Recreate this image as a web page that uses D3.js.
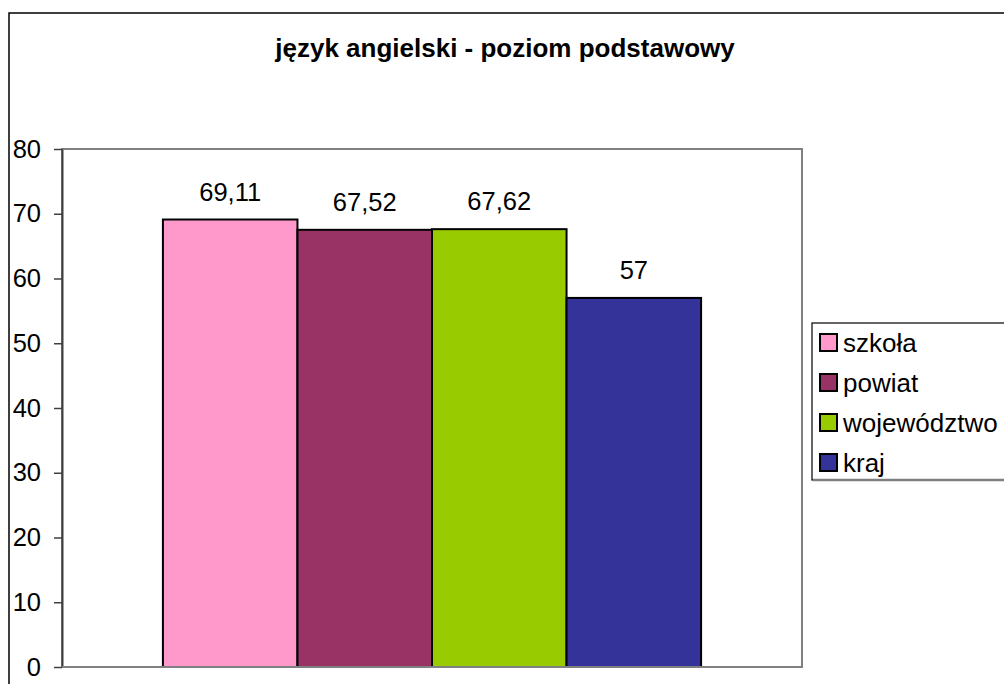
<!DOCTYPE html>
<html>
<head>
<meta charset="utf-8">
<script src="https://cdn.jsdelivr.net/npm/d3@7"></script>
<style>
  html, body { margin: 0; padding: 0; background: #fff; }
  svg text { font-family: Arial, "Liberation Sans", sans-serif; fill: #000; }
</style>
</head>
<body>
<svg id="chart" width="1004" height="684"></svg>
<script>
// dati
const title = 'język angielski - poziom podstawowy';
const categories = [''];
const seriesNames = ['szkoła', 'powiat', 'województwo', 'kraj'];
const seriesValues = [69.11, 67.52, 67.62, 57];
const seriesLabels = ['69,11', '67,52', '67,62', '57'];
const seriesColors = ['#FF99CC', '#993366', '#99CC00', '#333399'];
const yTicks = [0, 10, 20, 30, 40, 50, 60, 70, 80];

const svg = d3.select('#chart');

// cornice esterna (esce dal bordo destro e inferiore)
svg.append('rect')
    .attr('x', 9).attr('y', 13)
    .attr('width', 1100).attr('height', 800)
    .attr('fill', '#fff')
    .attr('stroke', '#000')
    .attr('stroke-width', 1.5);

// area del grafico
const plot = { left: 62, top: 149, right: 802, bottom: 667 };

const y = d3.scaleLinear().domain([0, 80]).range([plot.bottom, plot.top]);
const x0 = d3.scaleBand().domain(categories)
    .range([plot.left, plot.right])
    .paddingInner(0).paddingOuter(0.1875);
const x1 = d3.scaleBand().domain(seriesNames).range([0, x0.bandwidth()]);

// bordo area
svg.append('rect')
    .attr('x', plot.left).attr('y', plot.top)
    .attr('width', plot.right - plot.left)
    .attr('height', plot.bottom - plot.top)
    .attr('fill', '#fff')
    .attr('stroke', '#808080')
    .attr('stroke-width', 2);

// asse y
const yAxis = svg.append('g')
    .attr('transform', `translate(${plot.left},0)`)
    .call(d3.axisLeft(y).tickValues(yTicks).tickSize(8).tickSizeOuter(0).tickPadding(13));
yAxis.select('.domain').attr('stroke', '#404040').attr('stroke-width', 2);
yAxis.selectAll('.tick line').attr('stroke', '#404040').attr('stroke-width', 1.5);
yAxis.selectAll('.tick text')
    .attr('font-size', 25.5)
    .attr('font-family', 'Arial, "Liberation Sans", sans-serif')
    .attr('fill', '#000');

// barre
const data = seriesNames.map((name, i) => ({
    name, value: seriesValues[i], label: seriesLabels[i], color: seriesColors[i]
}));

const group = svg.append('g')
    .attr('transform', `translate(${x0(categories[0])},0)`);

group.selectAll('rect.bar')
    .data(data)
    .enter()
    .append('rect')
    .attr('class', 'bar')
    .attr('x', d => x1(d.name))
    .attr('y', d => y(d.value))
    .attr('width', x1.bandwidth())
    .attr('height', d => y(0) - y(d.value))
    .attr('fill', d => d.color)
    .attr('stroke', '#000')
    .attr('stroke-width', 2);

group.selectAll('text.val')
    .data(data)
    .enter()
    .append('text')
    .attr('class', 'val')
    .attr('x', d => x1(d.name) + x1.bandwidth() / 2)
    .attr('y', d => y(d.value) - 19)
    .attr('text-anchor', 'middle')
    .attr('font-size', 25.5)
    .text(d => d.label);

// asse x in basso
svg.append('line')
    .attr('x1', plot.left).attr('x2', plot.right)
    .attr('y1', plot.bottom).attr('y2', plot.bottom)
    .attr('stroke', '#808080').attr('stroke-width', 2);

// titolo
svg.append('text')
    .attr('x', 505).attr('y', 57)
    .attr('text-anchor', 'middle')
    .attr('font-size', 26)
    .attr('font-weight', 'bold')
    .text(title);

// legenda
const legend = svg.append('g').attr('transform', 'translate(812,323)');
legend.append('rect')
    .attr('x', 0).attr('y', 0)
    .attr('width', 300).attr('height', 157)
    .attr('fill', '#fff')
    .attr('stroke', '#000')
    .attr('stroke-width', 1.2);
legend.append('line')
    .attr('x1', 1).attr('x2', 300)
    .attr('y1', 157).attr('y2', 157)
    .attr('stroke', '#808080').attr('stroke-width', 2.5);

const entry = legend.selectAll('g.entry')
    .data(data)
    .enter()
    .append('g')
    .attr('class', 'entry')
    .attr('transform', (d, i) => `translate(8,${11 + i * 40})`);

entry.append('rect')
    .attr('width', 17).attr('height', 17)
    .attr('fill', d => d.color)
    .attr('stroke', '#000')
    .attr('stroke-width', 2);

entry.append('text')
    .attr('x', 23)
    .attr('y', 18)
    .attr('font-size', 26)
    .text(d => d.name);
</script>
</body>
</html>
